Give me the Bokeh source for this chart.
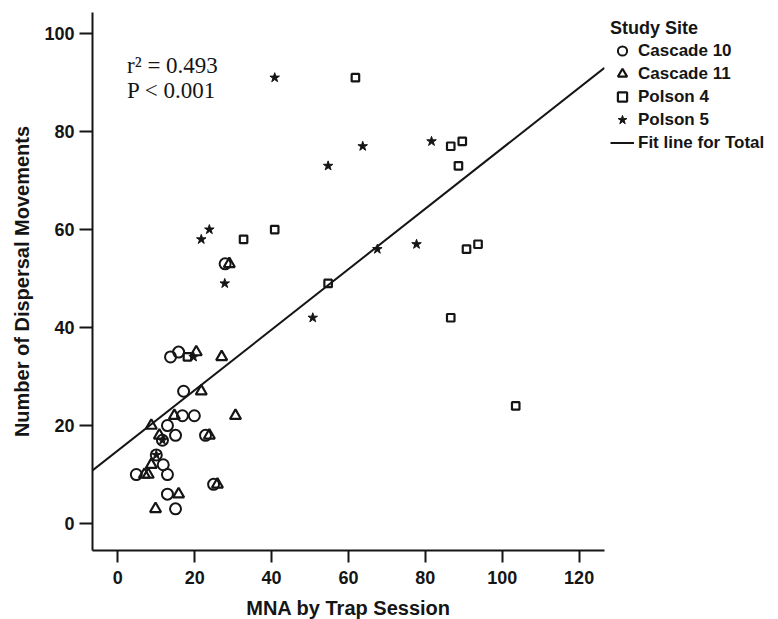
from bokeh.plotting import figure
from bokeh.models import Legend, LegendItem, Label, Range1d, FixedTicker
from bokeh.embed import file_html
from bokeh.resources import INLINE

# ---- data ----
c10_x = [13.7, 15.8, 17.1, 16.8, 19.9, 12.9, 11.6, 15.0, 22.8, 10.0, 11.8, 4.8, 12.9, 24.9, 12.9, 15.0, 27.9]
c10_y = [34, 35, 27, 22, 22, 20, 17, 18, 18, 14, 12, 10, 10, 8, 6, 3, 53]

c11_x = [20.4, 27.0, 21.7, 14.7, 30.6, 8.7, 10.8, 23.8, 8.7, 6.9, 7.9, 25.9, 15.8, 9.8, 29.0]
c11_y = [35, 34, 27, 22, 22, 20, 18, 18, 12, 10, 10, 8, 6, 3, 53]

p4_x = [61.8, 40.8, 86.6, 89.6, 88.6, 90.7, 93.7, 54.7, 86.6, 32.7, 103.5, 18.1]
p4_y = [91, 60, 77, 78, 73, 56, 57, 49, 42, 58, 24, 34]

p5_x = [40.8, 63.7, 54.7, 81.6, 67.5, 77.7, 50.7, 23.8, 21.7, 27.8, 19.7, 10.0, 11.6]
p5_y = [91, 77, 73, 78, 56, 57, 42, 60, 58, 49, 34, 14, 17]

fit_intercept = 14.9
fit_slope = 0.617

x_ticks = [0, 20, 40, 60, 80, 100, 120]
y_ticks = [0, 20, 40, 60, 80, 100]
x_bounds = [-6.6, 126.6]
y_bounds = [-5.5, 104.3]

site_labels = ["Cascade 10", "Cascade 11", "Polson 4", "Polson 5"]
fit_label = "Fit line for Total"
legend_title = "Study Site"
stat_lines = ["r\u00b2 = 0.493", "P < 0.001"]

INK = "#151515"
SANS = "Liberation Sans"

p = figure(frame_width=512, frame_height=538,
           min_border_left=92, min_border_top=12, min_border_bottom=61, min_border_right=166,
           x_range=Range1d(*x_bounds), y_range=Range1d(*y_bounds),
           output_backend="svg", toolbar_location=None,
           background_fill_color="white", border_fill_color="white")
p.outline_line_color = None
p.grid.visible = False

for ax, ticks in ((p.xaxis, x_ticks), (p.yaxis, y_ticks)):
    ax.ticker = FixedTicker(ticks=ticks)
    ax.minor_tick_line_color = None
    ax.major_tick_in = 0
    ax.axis_line_width = 2
    ax.axis_line_color = INK
    ax.major_tick_line_width = 2
    ax.major_tick_line_color = INK
    ax.major_label_text_font = SANS
    ax.major_label_text_font_style = "bold"
    ax.major_label_text_font_size = "18px"
    ax.major_label_text_color = INK
    ax.axis_label_text_font = SANS
    ax.axis_label_text_font_style = "bold"
    ax.axis_label_text_color = INK

p.xaxis.major_tick_out = 12
p.yaxis.major_tick_out = 13
p.xaxis.major_label_standoff = 8
p.yaxis.major_label_standoff = 5
p.xaxis.axis_label = "MNA by Trap Session"
p.yaxis.axis_label = "Number of Dispersal Movements"
p.xaxis.axis_label_text_font_size = "20px"
p.yaxis.axis_label_text_font_size = "20px"
p.xaxis.axis_label_standoff = 10
p.yaxis.axis_label_standoff = 8

r_c10 = p.scatter(c10_x, c10_y, marker="circle", size=11, fill_color=None,
                  line_color=INK, line_width=2)
r_c11 = p.scatter(c11_x, c11_y, marker="triangle", size=11, fill_color=None,
                  line_color=INK, line_width=2.2)
r_p4 = p.scatter(p4_x, p4_y, marker="square", size=7.5, fill_color=None,
                 line_color=INK, line_width=2.2)
r_p5 = p.scatter(p5_x, p5_y, marker="star", size=10, fill_color=INK,
                 line_color=INK, line_width=1)

fx = list(x_bounds)
fy = [fit_intercept + fit_slope * v for v in fx]
r_fit = p.line(fx, fy, line_color=INK, line_width=2)

for i, txt in enumerate(stat_lines):
    p.add_layout(Label(x=2.4, y=93.5 - 5.1 * i, text=txt, text_font="Liberation Serif",
                       text_font_size="23px", text_color=INK, text_baseline="alphabetic"))

legend = Legend(items=[LegendItem(label=l, renderers=[r]) for l, r in
                       zip(site_labels + [fit_label], [r_c10, r_c11, r_p4, r_p5, r_fit])],
                title=legend_title, location="top_left")
legend.margin = 6
legend.padding = 4
legend.border_line_color = None
legend.background_fill_alpha = 0
legend.title_text_font = SANS
legend.title_text_font_style = "bold"
legend.title_text_font_size = "18px"
legend.title_text_color = INK
legend.title_standoff = 0
legend.label_text_font = SANS
legend.label_text_font_style = "bold"
legend.label_text_font_size = "17px"
legend.label_text_color = INK
legend.glyph_width = 24
legend.glyph_height = 23
legend.label_height = 23
legend.spacing = 0
legend.label_standoff = 4
p.add_layout(legend, "right")

open("out.html", "w").write(file_html(p, INLINE))
